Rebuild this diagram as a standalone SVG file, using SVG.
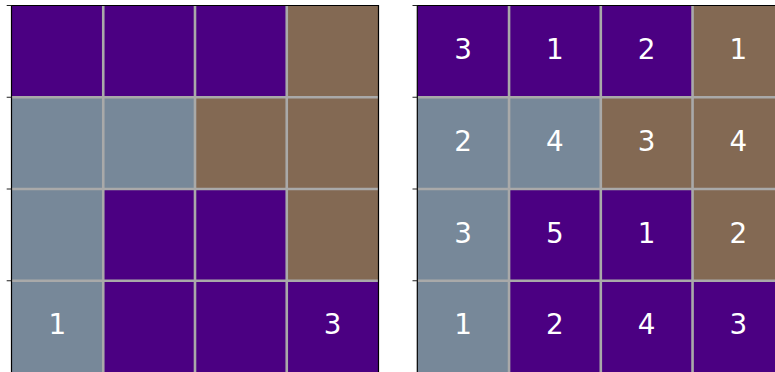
<svg xmlns="http://www.w3.org/2000/svg" width="775" height="372" viewBox="0 0 775 372">
<style>
.p{fill:#4b0082}.g{fill:#778899}.b{fill:#836953}
.grid{stroke:#a9a9a9;stroke-width:2.6;fill:none}
.spine{stroke:#000;stroke-width:1.2;fill:none}
.tick{stroke:#222;stroke-width:1}
text{font-family:"DejaVu Sans",sans-serif;font-size:27.8px;fill:#fff;text-anchor:middle}
</style>
<rect width="775" height="372" fill="#fff"/>
<g id="left-panel">
<rect class="p" x="11.5" y="5.5" width="91.75" height="91.75"/>
<rect class="p" x="103.25" y="5.5" width="91.75" height="91.75"/>
<rect class="p" x="195" y="5.5" width="91.75" height="91.75"/>
<rect class="b" x="286.75" y="5.5" width="91.75" height="91.75"/>
<rect class="g" x="11.5" y="97.25" width="91.75" height="91.75"/>
<rect class="g" x="103.25" y="97.25" width="91.75" height="91.75"/>
<rect class="b" x="195" y="97.25" width="91.75" height="91.75"/>
<rect class="b" x="286.75" y="97.25" width="91.75" height="91.75"/>
<rect class="g" x="11.5" y="189" width="91.75" height="91.75"/>
<rect class="p" x="103.25" y="189" width="91.75" height="91.75"/>
<rect class="p" x="195" y="189" width="91.75" height="91.75"/>
<rect class="b" x="286.75" y="189" width="91.75" height="91.75"/>
<rect class="g" x="11.5" y="280.75" width="91.75" height="91.75"/>
<rect class="p" x="103.25" y="280.75" width="91.75" height="91.75"/>
<rect class="p" x="195" y="280.75" width="91.75" height="91.75"/>
<rect class="p" x="286.75" y="280.75" width="91.75" height="91.75"/>
<path class="grid" d="M103.25 5.5V372.5M195 5.5V372.5M286.75 5.5V372.5M11.5 97.25H378.5M11.5 189H378.5M11.5 280.75H378.5"/>
<path class="spine" d="M11.5 372.5V5.5H378.5V372.5"/>
<path class="tick" d="M6.7 5.5H11.5M6.7 97.25H11.5M6.7 189H11.5M6.7 280.75H11.5"/>
<text x="57.4" y="334.2">1</text>
<text x="332.6" y="334.2">3</text>
</g>
<g id="right-panel">
<rect class="p" x="417.3" y="5.5" width="91.75" height="91.75"/>
<rect class="p" x="509.05" y="5.5" width="91.75" height="91.75"/>
<rect class="p" x="600.8" y="5.5" width="91.75" height="91.75"/>
<rect class="b" x="692.55" y="5.5" width="91.75" height="91.75"/>
<rect class="g" x="417.3" y="97.25" width="91.75" height="91.75"/>
<rect class="g" x="509.05" y="97.25" width="91.75" height="91.75"/>
<rect class="b" x="600.8" y="97.25" width="91.75" height="91.75"/>
<rect class="b" x="692.55" y="97.25" width="91.75" height="91.75"/>
<rect class="g" x="417.3" y="189" width="91.75" height="91.75"/>
<rect class="p" x="509.05" y="189" width="91.75" height="91.75"/>
<rect class="p" x="600.8" y="189" width="91.75" height="91.75"/>
<rect class="b" x="692.55" y="189" width="91.75" height="91.75"/>
<rect class="g" x="417.3" y="280.75" width="91.75" height="91.75"/>
<rect class="p" x="509.05" y="280.75" width="91.75" height="91.75"/>
<rect class="p" x="600.8" y="280.75" width="91.75" height="91.75"/>
<rect class="p" x="692.55" y="280.75" width="91.75" height="91.75"/>
<path class="grid" d="M509.05 5.5V372.5M600.8 5.5V372.5M692.55 5.5V372.5M417.3 97.25H784.3M417.3 189H784.3M417.3 280.75H784.3"/>
<path class="spine" d="M417.3 372.5V5.5H784.3"/>
<path class="tick" d="M412.5 5.5H417.3M412.5 97.25H417.3M412.5 189H417.3M412.5 280.75H417.3"/>
<text x="463.2" y="59">3</text><text x="554.9" y="59">1</text><text x="646.7" y="59">2</text><text x="738.4" y="59">1</text>
<text x="463.2" y="150.7">2</text><text x="554.9" y="150.7">4</text><text x="646.7" y="150.7">3</text><text x="738.4" y="150.7">4</text>
<text x="463.2" y="242.5">3</text><text x="554.9" y="242.5">5</text><text x="646.7" y="242.5">1</text><text x="738.4" y="242.5">2</text>
<text x="463.2" y="334.2">1</text><text x="554.9" y="334.2">2</text><text x="646.7" y="334.2">4</text><text x="738.4" y="334.2">3</text>
</g>
</svg>
